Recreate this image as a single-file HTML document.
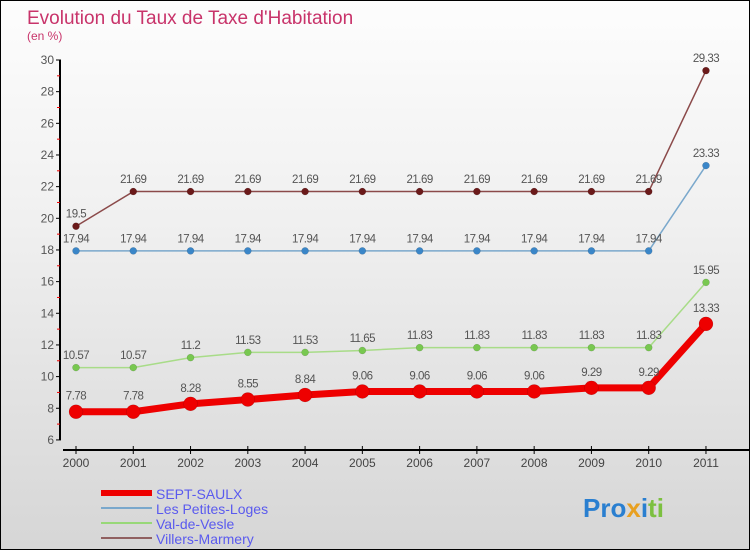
<!DOCTYPE html>
<html><head><meta charset="utf-8"><style>
html,body{margin:0;padding:0}
body{width:750px;height:550px;overflow:hidden;font-family:"Liberation Sans",sans-serif}
#wrap{position:relative;width:748px;height:548px;border:1px solid #000;background:linear-gradient(#fdfdfd,#f0f0f0 40%,#d6d6d6)}
</style></head><body>
<div id="wrap">
<svg id="chart" width="748" height="548" xmlns="http://www.w3.org/2000/svg">
<text x="26" y="23" font-size="19" fill="#c8336a">Evolution du Taux de Taxe d'Habitation</text>
<text x="26" y="39" font-size="12" fill="#c8336a">(en %)</text>
<g id="axes"></g><g id="series"></g><g id="legend"></g>
<text x="582" y="516" font-size="26" font-weight="bold" fill="#2a7fd0">Pro<tspan fill="#e8a020">x</tspan><tspan fill="#2a7fd0">i</tspan><tspan fill="#7cc040">ti</tspan></text>
</svg></div>
<script>
const years=[2000,2001,2002,2003,2004,2005,2006,2007,2008,2009,2010,2011];
const yTicks=[6,8,10,12,14,16,18,20,22,24,26,28,30];
const sept=[7.78,7.78,8.28,8.55,8.84,9.06,9.06,9.06,9.06,9.29,9.29,13.33];
const petites=[17.94,17.94,17.94,17.94,17.94,17.94,17.94,17.94,17.94,17.94,17.94,23.33];
const vesle=[10.57,10.57,11.2,11.53,11.53,11.65,11.83,11.83,11.83,11.83,11.83,15.95];
const villers=[19.5,21.69,21.69,21.69,21.69,21.69,21.69,21.69,21.69,21.69,21.69,29.33];
const NS="http://www.w3.org/2000/svg";
const xS=i=>75+i*57.27;
const yS=v=>59+(30-v)*15.83;
function mk(p,t,a){const e=document.createElementNS(NS,t);for(const k in a)e.setAttribute(k,a[k]);p.appendChild(e);return e;}
const axes=document.getElementById('axes');
let e=mk(axes,'line',{x1:59,y1:yS(30),x2:59,y2:yS(6),stroke:'#000','stroke-width':2});


e=mk(axes,'line',{x1:62,y1:449,x2:748,y2:449,stroke:'#000','stroke-width':2});


yTicks.forEach(v=>{
  mk(axes,'line',{x1:55,y1:yS(v),x2:60,y2:yS(v),stroke:'#000','stroke-width':1});
  if(v<30) mk(axes,'line',{x1:56,y1:yS(v+1),x2:59,y2:yS(v+1),stroke:'#e00','stroke-width':1});
  const t=mk(axes,'text',{x:53,y:yS(v)+4,'font-size':12,fill:'#555','text-anchor':'end'});t.textContent=v;
  
  
});
years.forEach((y,i)=>{
  mk(axes,'line',{x1:xS(i),y1:445,x2:xS(i),y2:453,stroke:'#000','stroke-width':1});
  const t=mk(axes,'text',{x:xS(i),y:466,'font-size':12,fill:'#444','text-anchor':'middle'});t.textContent=y;
  
  
});
const ser=document.getElementById('series');
function draw(vals,color,w,r,name,dot){
  const g=mk(ser,'g',{});
  
  
  mk(g,'polyline',{points:vals.map((v,i)=>xS(i)+','+yS(v)).join(' '),fill:'none',stroke:color,'stroke-width':w,'stroke-linejoin':'round'});
  vals.forEach((v,i)=>{
    const c=mk(g,'circle',{cx:xS(i),cy:yS(v),r:r,fill:dot,stroke:'rgba(0,0,0,0.2)','stroke-width':0.5});
    
    
    const t=mk(g,'text',{x:xS(i),y:yS(v)-(r+5),'font-size':11.5,fill:'#555','text-anchor':'middle','letter-spacing':'-0.5'});t.textContent=String(v);
    
    
  });
}
draw(villers,'#8b4a4a',1.5,3.5,'series-villers-marmery','#6b1a1a');
draw(petites,'#7aa8cc',1.5,3.5,'series-les-petites-loges','#3a86c8');
draw(vesle,'#a8dc88',1.5,3.5,'series-val-de-vesle','#78c850');
draw(sept,'#ee0000',7,7,'series-sept-saulx','#ee0000');
const leg=document.getElementById('legend');
[['SEPT-SAULX','#ee0000',6],['Les Petites-Loges','#7aa8cc',2],['Val-de-Vesle','#98d878',2],['Villers-Marmery','#906060',2]].forEach((d,i)=>{
  const y=492+i*15;
  const g=mk(leg,'g',{});
  
  
  mk(g,'line',{x1:100,y1:y,x2:151,y2:y,stroke:d[1],'stroke-width':d[2]});
  const t=mk(g,'text',{x:155,y:y+6,'font-size':14,fill:'#5a5aee'});t.textContent=d[0];
});
</script>
</body></html>
